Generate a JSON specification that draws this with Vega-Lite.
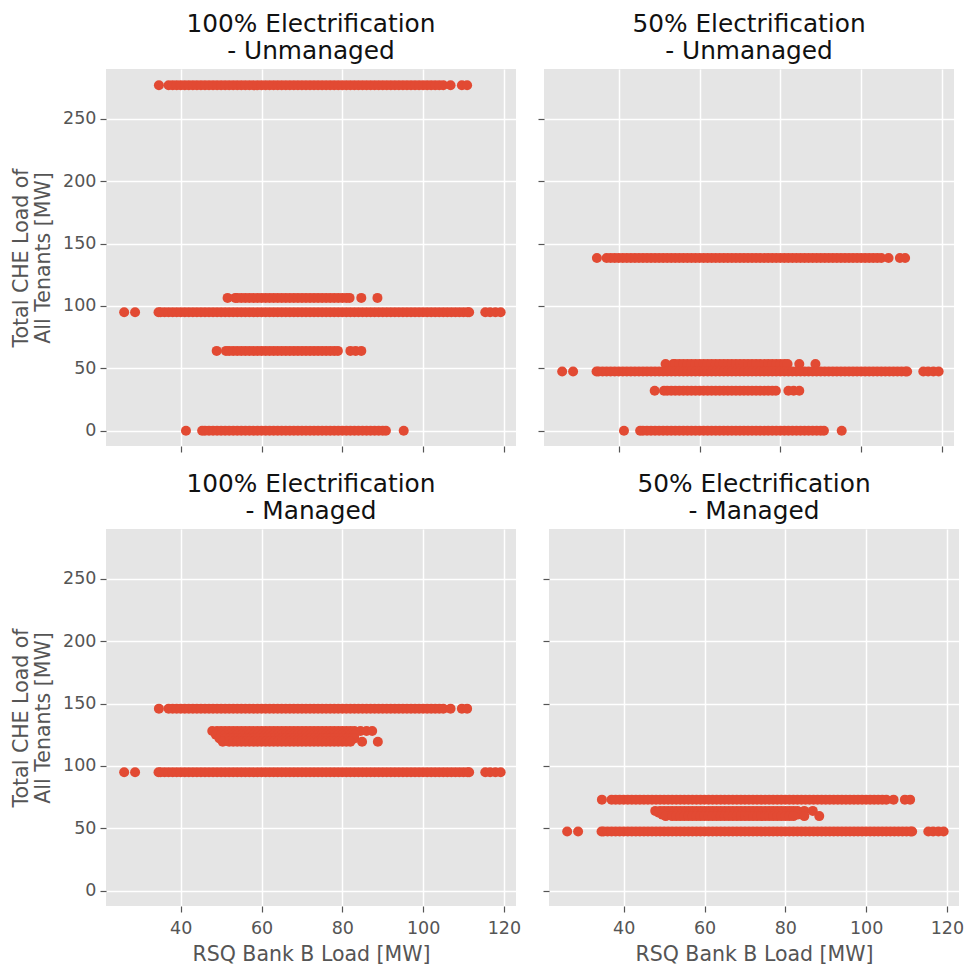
{
  "$schema": "https://vega.github.io/schema/vega-lite/v6.json",
  "padding": {"left": 11, "top": 12, "right": 0, "bottom": 0},
  "background": "white",
  "config": {
    "font": "DejaVu Sans",
    "view": {"fill": "#E5E5E5", "stroke": null},
    "axis": {
      "gridColor": "#FFFFFF",
      "gridWidth": 1.5,
      "domain": false,
      "tickColor": "#555555",
      "tickSize": 6,
      "tickWidth": 1.2,
      "labelColor": "#555555",
      "labelFontSize": 17.5,
      "labelFont": "DejaVu Sans",
      "labelPadding": 4,
      "titleFont": "DejaVu Sans",
      "titleFontSize": 20.5,
      "titleFontWeight": "normal",
      "titleColor": "#555555"
    },
    "title": {
      "font": "DejaVu Sans",
      "fontSize": 24.8,
      "fontWeight": "normal",
      "color": "#111111",
      "lineHeight": 27,
      "offset": 5,
      "anchor": "middle"
    }
  },
  "data": {
    "format": {"type": "csv", "parse": {"x": "number", "y": "number"}},
    "values": "p,x,y\na,34.6,277\na,37,277\na,38,277\na,39,277\na,40,277\na,41,277\na,42,277\na,43,277\na,44,277\na,45,277\na,46,277\na,47,277\na,48,277\na,49,277\na,50,277\na,51,277\na,52,277\na,53,277\na,54,277\na,55,277\na,56,277\na,57,277\na,58,277\na,59,277\na,60,277\na,61,277\na,62,277\na,63,277\na,64,277\na,65,277\na,66,277\na,67,277\na,68,277\na,69,277\na,70,277\na,71,277\na,72,277\na,73,277\na,74,277\na,75,277\na,76,277\na,77,277\na,78,277\na,79,277\na,80,277\na,81,277\na,82,277\na,83,277\na,84,277\na,85,277\na,86,277\na,87,277\na,88,277\na,89,277\na,90,277\na,91,277\na,92,277\na,93,277\na,94,277\na,95,277\na,96,277\na,97,277\na,98,277\na,99,277\na,100,277\na,101,277\na,102,277\na,103,277\na,104,277\na,105,277\na,106.8,277\na,109.6,277\na,110.9,277\na,51.6,106.5\na,53.5,106.5\na,54,106.5\na,55,106.5\na,56,106.5\na,57,106.5\na,58,106.5\na,59,106.5\na,60,106.5\na,61,106.5\na,62,106.5\na,63,106.5\na,64,106.5\na,65,106.5\na,66,106.5\na,67,106.5\na,68,106.5\na,69,106.5\na,70,106.5\na,71,106.5\na,72,106.5\na,73,106.5\na,74,106.5\na,75,106.5\na,76,106.5\na,77,106.5\na,78,106.5\na,79,106.5\na,80,106.5\na,81,106.5\na,81.8,106.5\na,84.7,106.5\na,88.7,106.5\na,26,95\na,28.7,95\na,34.5,95\na,35,95\na,36,95\na,37,95\na,38,95\na,39,95\na,40,95\na,41,95\na,42,95\na,43,95\na,44,95\na,45,95\na,46,95\na,47,95\na,48,95\na,49,95\na,50,95\na,51,95\na,52,95\na,53,95\na,54,95\na,55,95\na,56,95\na,57,95\na,58,95\na,59,95\na,60,95\na,61,95\na,62,95\na,63,95\na,64,95\na,65,95\na,66,95\na,67,95\na,68,95\na,69,95\na,70,95\na,71,95\na,72,95\na,73,95\na,74,95\na,75,95\na,76,95\na,77,95\na,78,95\na,79,95\na,80,95\na,81,95\na,82,95\na,83,95\na,84,95\na,85,95\na,86,95\na,87,95\na,88,95\na,89,95\na,90,95\na,91,95\na,92,95\na,93,95\na,94,95\na,95,95\na,96,95\na,97,95\na,98,95\na,99,95\na,100,95\na,101,95\na,102,95\na,103,95\na,104,95\na,105,95\na,106,95\na,107,95\na,108,95\na,109,95\na,110,95\na,111,95\na,111.4,95\na,115.4,95\na,116.6,95\na,117.9,95\na,119.2,95\na,48.9,64\na,51.2,64\na,52,64\na,53,64\na,54,64\na,55,64\na,56,64\na,57,64\na,58,64\na,59,64\na,60,64\na,61,64\na,62,64\na,63,64\na,64,64\na,65,64\na,66,64\na,67,64\na,68,64\na,69,64\na,70,64\na,71,64\na,72,64\na,73,64\na,74,64\na,75,64\na,76,64\na,77,64\na,78,64\na,78.9,64\na,82,64\na,83.3,64\na,84.7,64\na,41.3,0\na,45.3,0\na,46,0\na,47,0\na,48,0\na,49,0\na,50,0\na,51,0\na,52,0\na,53,0\na,54,0\na,55,0\na,56,0\na,57,0\na,58,0\na,59,0\na,60,0\na,61,0\na,62,0\na,63,0\na,64,0\na,65,0\na,66,0\na,67,0\na,68,0\na,69,0\na,70,0\na,71,0\na,72,0\na,73,0\na,74,0\na,75,0\na,76,0\na,77,0\na,78,0\na,79,0\na,80,0\na,81,0\na,82,0\na,83,0\na,84,0\na,85,0\na,86,0\na,87,0\na,88,0\na,89,0\na,90,0\na,90.8,0\na,95.2,0\nb,34.6,138.5\nb,37,138.5\nb,38,138.5\nb,39,138.5\nb,40,138.5\nb,41,138.5\nb,42,138.5\nb,43,138.5\nb,44,138.5\nb,45,138.5\nb,46,138.5\nb,47,138.5\nb,48,138.5\nb,49,138.5\nb,50,138.5\nb,51,138.5\nb,52,138.5\nb,53,138.5\nb,54,138.5\nb,55,138.5\nb,56,138.5\nb,57,138.5\nb,58,138.5\nb,59,138.5\nb,60,138.5\nb,61,138.5\nb,62,138.5\nb,63,138.5\nb,64,138.5\nb,65,138.5\nb,66,138.5\nb,67,138.5\nb,68,138.5\nb,69,138.5\nb,70,138.5\nb,71,138.5\nb,72,138.5\nb,73,138.5\nb,74,138.5\nb,75,138.5\nb,76,138.5\nb,77,138.5\nb,78,138.5\nb,79,138.5\nb,80,138.5\nb,81,138.5\nb,82,138.5\nb,83,138.5\nb,84,138.5\nb,85,138.5\nb,86,138.5\nb,87,138.5\nb,88,138.5\nb,89,138.5\nb,90,138.5\nb,91,138.5\nb,92,138.5\nb,93,138.5\nb,94,138.5\nb,95,138.5\nb,96,138.5\nb,97,138.5\nb,98,138.5\nb,99,138.5\nb,100,138.5\nb,101,138.5\nb,102,138.5\nb,103,138.5\nb,104,138.5\nb,105,138.5\nb,106.8,138.5\nb,109.6,138.5\nb,110.9,138.5\nb,51.6,53.5\nb,53.5,53.5\nb,54,53.5\nb,55,53.5\nb,56,53.5\nb,57,53.5\nb,58,53.5\nb,59,53.5\nb,60,53.5\nb,61,53.5\nb,62,53.5\nb,63,53.5\nb,64,53.5\nb,65,53.5\nb,66,53.5\nb,67,53.5\nb,68,53.5\nb,69,53.5\nb,70,53.5\nb,71,53.5\nb,72,53.5\nb,73,53.5\nb,74,53.5\nb,75,53.5\nb,76,53.5\nb,77,53.5\nb,78,53.5\nb,79,53.5\nb,80,53.5\nb,81,53.5\nb,81.8,53.5\nb,84.7,53.5\nb,88.7,53.5\nb,26,47.5\nb,28.7,47.5\nb,34.5,47.5\nb,35,47.5\nb,36,47.5\nb,37,47.5\nb,38,47.5\nb,39,47.5\nb,40,47.5\nb,41,47.5\nb,42,47.5\nb,43,47.5\nb,44,47.5\nb,45,47.5\nb,46,47.5\nb,47,47.5\nb,48,47.5\nb,49,47.5\nb,50,47.5\nb,51,47.5\nb,52,47.5\nb,53,47.5\nb,54,47.5\nb,55,47.5\nb,56,47.5\nb,57,47.5\nb,58,47.5\nb,59,47.5\nb,60,47.5\nb,61,47.5\nb,62,47.5\nb,63,47.5\nb,64,47.5\nb,65,47.5\nb,66,47.5\nb,67,47.5\nb,68,47.5\nb,69,47.5\nb,70,47.5\nb,71,47.5\nb,72,47.5\nb,73,47.5\nb,74,47.5\nb,75,47.5\nb,76,47.5\nb,77,47.5\nb,78,47.5\nb,79,47.5\nb,80,47.5\nb,81,47.5\nb,82,47.5\nb,83,47.5\nb,84,47.5\nb,85,47.5\nb,86,47.5\nb,87,47.5\nb,88,47.5\nb,89,47.5\nb,90,47.5\nb,91,47.5\nb,92,47.5\nb,93,47.5\nb,94,47.5\nb,95,47.5\nb,96,47.5\nb,97,47.5\nb,98,47.5\nb,99,47.5\nb,100,47.5\nb,101,47.5\nb,102,47.5\nb,103,47.5\nb,104,47.5\nb,105,47.5\nb,106,47.5\nb,107,47.5\nb,108,47.5\nb,109,47.5\nb,110,47.5\nb,111,47.5\nb,111.4,47.5\nb,115.4,47.5\nb,116.6,47.5\nb,117.9,47.5\nb,119.2,47.5\nb,48.9,32\nb,51.2,32\nb,52,32\nb,53,32\nb,54,32\nb,55,32\nb,56,32\nb,57,32\nb,58,32\nb,59,32\nb,60,32\nb,61,32\nb,62,32\nb,63,32\nb,64,32\nb,65,32\nb,66,32\nb,67,32\nb,68,32\nb,69,32\nb,70,32\nb,71,32\nb,72,32\nb,73,32\nb,74,32\nb,75,32\nb,76,32\nb,77,32\nb,78,32\nb,78.9,32\nb,82,32\nb,83.3,32\nb,84.7,32\nb,41.3,0\nb,45.3,0\nb,46,0\nb,47,0\nb,48,0\nb,49,0\nb,50,0\nb,51,0\nb,52,0\nb,53,0\nb,54,0\nb,55,0\nb,56,0\nb,57,0\nb,58,0\nb,59,0\nb,60,0\nb,61,0\nb,62,0\nb,63,0\nb,64,0\nb,65,0\nb,66,0\nb,67,0\nb,68,0\nb,69,0\nb,70,0\nb,71,0\nb,72,0\nb,73,0\nb,74,0\nb,75,0\nb,76,0\nb,77,0\nb,78,0\nb,79,0\nb,80,0\nb,81,0\nb,82,0\nb,83,0\nb,84,0\nb,85,0\nb,86,0\nb,87,0\nb,88,0\nb,89,0\nb,90,0\nb,90.8,0\nb,95.2,0\nc,34.6,146\nc,37,146\nc,38,146\nc,39,146\nc,40,146\nc,41,146\nc,42,146\nc,43,146\nc,44,146\nc,45,146\nc,46,146\nc,47,146\nc,48,146\nc,49,146\nc,50,146\nc,51,146\nc,52,146\nc,53,146\nc,54,146\nc,55,146\nc,56,146\nc,57,146\nc,58,146\nc,59,146\nc,60,146\nc,61,146\nc,62,146\nc,63,146\nc,64,146\nc,65,146\nc,66,146\nc,67,146\nc,68,146\nc,69,146\nc,70,146\nc,71,146\nc,72,146\nc,73,146\nc,74,146\nc,75,146\nc,76,146\nc,77,146\nc,78,146\nc,79,146\nc,80,146\nc,81,146\nc,82,146\nc,83,146\nc,84,146\nc,85,146\nc,86,146\nc,87,146\nc,88,146\nc,89,146\nc,90,146\nc,91,146\nc,92,146\nc,93,146\nc,94,146\nc,95,146\nc,96,146\nc,97,146\nc,98,146\nc,99,146\nc,100,146\nc,101,146\nc,102,146\nc,103,146\nc,104,146\nc,105,146\nc,106.8,146\nc,109.6,146\nc,110.9,146\nc,47.8,128\nc,49,128\nc,50,128\nc,51,128\nc,52,128\nc,53,128\nc,54,128\nc,55,128\nc,56,128\nc,57,128\nc,58,128\nc,59,128\nc,60,128\nc,61,128\nc,62,128\nc,63,128\nc,64,128\nc,65,128\nc,66,128\nc,67,128\nc,68,128\nc,69,128\nc,70,128\nc,71,128\nc,72,128\nc,73,128\nc,74,128\nc,75,128\nc,76,128\nc,77,128\nc,78,128\nc,79,128\nc,80,128\nc,81,128\nc,82,128\nc,83,128\nc,84.5,128\nc,86,128\nc,87.4,128\nc,48.7,125\nc,50,125\nc,51,125\nc,52,125\nc,53,125\nc,54,125\nc,55,125\nc,56,125\nc,57,125\nc,58,125\nc,59,125\nc,60,125\nc,61,125\nc,62,125\nc,63,125\nc,64,125\nc,65,125\nc,66,125\nc,67,125\nc,68,125\nc,69,125\nc,70,125\nc,71,125\nc,72,125\nc,73,125\nc,74,125\nc,75,125\nc,76,125\nc,77,125\nc,78,125\nc,79,125\nc,80,125\nc,81,125\nc,82,125\nc,83,125\nc,49.6,122\nc,51,122\nc,52,122\nc,53,122\nc,54,122\nc,55,122\nc,56,122\nc,57,122\nc,58,122\nc,59,122\nc,60,122\nc,61,122\nc,62,122\nc,63,122\nc,64,122\nc,65,122\nc,66,122\nc,67,122\nc,68,122\nc,69,122\nc,70,122\nc,71,122\nc,72,122\nc,73,122\nc,74,122\nc,75,122\nc,76,122\nc,77,122\nc,78,122\nc,79,122\nc,80,122\nc,81,122\nc,82,122\nc,83,122\nc,50.4,119.5\nc,52,119.5\nc,53,119.5\nc,54,119.5\nc,55,119.5\nc,56,119.5\nc,57,119.5\nc,58,119.5\nc,59,119.5\nc,60,119.5\nc,61,119.5\nc,62,119.5\nc,63,119.5\nc,64,119.5\nc,65,119.5\nc,66,119.5\nc,67,119.5\nc,68,119.5\nc,69,119.5\nc,70,119.5\nc,71,119.5\nc,72,119.5\nc,73,119.5\nc,74,119.5\nc,75,119.5\nc,76,119.5\nc,77,119.5\nc,78,119.5\nc,79,119.5\nc,80,119.5\nc,81,119.5\nc,82,119.5\nc,84.9,119.5\nc,88.8,119.5\nc,26,95\nc,28.7,95\nc,34.5,95\nc,35,95\nc,36,95\nc,37,95\nc,38,95\nc,39,95\nc,40,95\nc,41,95\nc,42,95\nc,43,95\nc,44,95\nc,45,95\nc,46,95\nc,47,95\nc,48,95\nc,49,95\nc,50,95\nc,51,95\nc,52,95\nc,53,95\nc,54,95\nc,55,95\nc,56,95\nc,57,95\nc,58,95\nc,59,95\nc,60,95\nc,61,95\nc,62,95\nc,63,95\nc,64,95\nc,65,95\nc,66,95\nc,67,95\nc,68,95\nc,69,95\nc,70,95\nc,71,95\nc,72,95\nc,73,95\nc,74,95\nc,75,95\nc,76,95\nc,77,95\nc,78,95\nc,79,95\nc,80,95\nc,81,95\nc,82,95\nc,83,95\nc,84,95\nc,85,95\nc,86,95\nc,87,95\nc,88,95\nc,89,95\nc,90,95\nc,91,95\nc,92,95\nc,93,95\nc,94,95\nc,95,95\nc,96,95\nc,97,95\nc,98,95\nc,99,95\nc,100,95\nc,101,95\nc,102,95\nc,103,95\nc,104,95\nc,105,95\nc,106,95\nc,107,95\nc,108,95\nc,109,95\nc,110,95\nc,111,95\nc,111.4,95\nc,115.4,95\nc,116.6,95\nc,117.9,95\nc,119.2,95\nd,34.6,73\nd,37,73\nd,38,73\nd,39,73\nd,40,73\nd,41,73\nd,42,73\nd,43,73\nd,44,73\nd,45,73\nd,46,73\nd,47,73\nd,48,73\nd,49,73\nd,50,73\nd,51,73\nd,52,73\nd,53,73\nd,54,73\nd,55,73\nd,56,73\nd,57,73\nd,58,73\nd,59,73\nd,60,73\nd,61,73\nd,62,73\nd,63,73\nd,64,73\nd,65,73\nd,66,73\nd,67,73\nd,68,73\nd,69,73\nd,70,73\nd,71,73\nd,72,73\nd,73,73\nd,74,73\nd,75,73\nd,76,73\nd,77,73\nd,78,73\nd,79,73\nd,80,73\nd,81,73\nd,82,73\nd,83,73\nd,84,73\nd,85,73\nd,86,73\nd,87,73\nd,88,73\nd,89,73\nd,90,73\nd,91,73\nd,92,73\nd,93,73\nd,94,73\nd,95,73\nd,96,73\nd,97,73\nd,98,73\nd,99,73\nd,100,73\nd,101,73\nd,102,73\nd,103,73\nd,104,73\nd,105,73\nd,106.8,73\nd,109.6,73\nd,110.9,73\nd,47.8,64\nd,49,64\nd,50,64\nd,51,64\nd,52,64\nd,53,64\nd,54,64\nd,55,64\nd,56,64\nd,57,64\nd,58,64\nd,59,64\nd,60,64\nd,61,64\nd,62,64\nd,63,64\nd,64,64\nd,65,64\nd,66,64\nd,67,64\nd,68,64\nd,69,64\nd,70,64\nd,71,64\nd,72,64\nd,73,64\nd,74,64\nd,75,64\nd,76,64\nd,77,64\nd,78,64\nd,79,64\nd,80,64\nd,81,64\nd,82,64\nd,83,64\nd,84.7,64\nd,86.8,64\nd,48.7,62.5\nd,50,62.5\nd,51,62.5\nd,52,62.5\nd,53,62.5\nd,54,62.5\nd,55,62.5\nd,56,62.5\nd,57,62.5\nd,58,62.5\nd,59,62.5\nd,60,62.5\nd,61,62.5\nd,62,62.5\nd,63,62.5\nd,64,62.5\nd,65,62.5\nd,66,62.5\nd,67,62.5\nd,68,62.5\nd,69,62.5\nd,70,62.5\nd,71,62.5\nd,72,62.5\nd,73,62.5\nd,74,62.5\nd,75,62.5\nd,76,62.5\nd,77,62.5\nd,78,62.5\nd,79,62.5\nd,80,62.5\nd,81,62.5\nd,82,62.5\nd,83,62.5\nd,49.6,61\nd,51,61\nd,52,61\nd,53,61\nd,54,61\nd,55,61\nd,56,61\nd,57,61\nd,58,61\nd,59,61\nd,60,61\nd,61,61\nd,62,61\nd,63,61\nd,64,61\nd,65,61\nd,66,61\nd,67,61\nd,68,61\nd,69,61\nd,70,61\nd,71,61\nd,72,61\nd,73,61\nd,74,61\nd,75,61\nd,76,61\nd,77,61\nd,78,61\nd,79,61\nd,80,61\nd,81,61\nd,82,61\nd,83,61\nd,50.4,59.8\nd,52,59.8\nd,53,59.8\nd,54,59.8\nd,55,59.8\nd,56,59.8\nd,57,59.8\nd,58,59.8\nd,59,59.8\nd,60,59.8\nd,61,59.8\nd,62,59.8\nd,63,59.8\nd,64,59.8\nd,65,59.8\nd,66,59.8\nd,67,59.8\nd,68,59.8\nd,69,59.8\nd,70,59.8\nd,71,59.8\nd,72,59.8\nd,73,59.8\nd,74,59.8\nd,75,59.8\nd,76,59.8\nd,77,59.8\nd,78,59.8\nd,79,59.8\nd,80,59.8\nd,81,59.8\nd,82,59.8\nd,84.7,59.8\nd,88.4,59.8\nd,26,47.5\nd,28.7,47.5\nd,34.5,47.5\nd,35,47.5\nd,36,47.5\nd,37,47.5\nd,38,47.5\nd,39,47.5\nd,40,47.5\nd,41,47.5\nd,42,47.5\nd,43,47.5\nd,44,47.5\nd,45,47.5\nd,46,47.5\nd,47,47.5\nd,48,47.5\nd,49,47.5\nd,50,47.5\nd,51,47.5\nd,52,47.5\nd,53,47.5\nd,54,47.5\nd,55,47.5\nd,56,47.5\nd,57,47.5\nd,58,47.5\nd,59,47.5\nd,60,47.5\nd,61,47.5\nd,62,47.5\nd,63,47.5\nd,64,47.5\nd,65,47.5\nd,66,47.5\nd,67,47.5\nd,68,47.5\nd,69,47.5\nd,70,47.5\nd,71,47.5\nd,72,47.5\nd,73,47.5\nd,74,47.5\nd,75,47.5\nd,76,47.5\nd,77,47.5\nd,78,47.5\nd,79,47.5\nd,80,47.5\nd,81,47.5\nd,82,47.5\nd,83,47.5\nd,84,47.5\nd,85,47.5\nd,86,47.5\nd,87,47.5\nd,88,47.5\nd,89,47.5\nd,90,47.5\nd,91,47.5\nd,92,47.5\nd,93,47.5\nd,94,47.5\nd,95,47.5\nd,96,47.5\nd,97,47.5\nd,98,47.5\nd,99,47.5\nd,100,47.5\nd,101,47.5\nd,102,47.5\nd,103,47.5\nd,104,47.5\nd,105,47.5\nd,106,47.5\nd,107,47.5\nd,108,47.5\nd,109,47.5\nd,110,47.5\nd,111,47.5\nd,111.4,47.5\nd,115.4,47.5\nd,116.6,47.5\nd,117.9,47.5\nd,119.2,47.5\n"
  },
  "spacing": 19,
  "vconcat": [
    {
      "spacing": 21,
      "hconcat": [
        {
          "title": {"text": ["100% Electrification", "- Unmanaged"]},
          "width": 410,
          "height": 377,
          "transform": [{"filter": "datum.p === 'a'"}],
          "mark": {"type": "circle", "color": "#E24A33", "opacity": 1, "size": 100},
          "encoding": {
            "x": {"field": "x", "type": "quantitative", "scale": {"domain": [21.5, 123], "nice": false, "zero": false}, "axis": {"values": [40, 60, 80, 100, 120], "labels": false, "title": null}},
            "y": {"field": "y", "type": "quantitative", "scale": {"domain": [-12.3, 290.1], "nice": false, "zero": false}, "axis": {"values": [0, 50, 100, 150, 200, 250], "title": ["Total CHE Load of", "All Tenants [MW]"], "titleLineHeight": 22, "titlePadding": 9}}
          }
        },
        {
          "title": {"text": ["50% Electrification", "- Unmanaged"]},
          "width": 410,
          "height": 377,
          "transform": [{"filter": "datum.p === 'b'"}],
          "mark": {"type": "circle", "color": "#E24A33", "opacity": 1, "size": 100},
          "encoding": {
            "x": {"field": "x", "type": "quantitative", "scale": {"domain": [21.5, 123], "nice": false, "zero": false}, "axis": {"values": [40, 60, 80, 100, 120], "labels": false, "title": null}},
            "y": {"field": "y", "type": "quantitative", "scale": {"domain": [-12.3, 290.1], "nice": false, "zero": false}, "axis": {"values": [0, 50, 100, 150, 200, 250], "labels": false, "title": null}}
          }
        }
      ]
    },
    {
      "spacing": 21,
      "hconcat": [
        {
          "title": {"text": ["100% Electrification", "- Managed"]},
          "width": 410,
          "height": 377,
          "transform": [{"filter": "datum.p === 'c'"}],
          "mark": {"type": "circle", "color": "#E24A33", "opacity": 1, "size": 100},
          "encoding": {
            "x": {"field": "x", "type": "quantitative", "scale": {"domain": [21.5, 123], "nice": false, "zero": false}, "axis": {"values": [40, 60, 80, 100, 120], "labelPadding": 7, "title": "RSQ Bank B Load [MW]", "titlePadding": 8}},
            "y": {"field": "y", "type": "quantitative", "scale": {"domain": [-12.3, 290.1], "nice": false, "zero": false}, "axis": {"values": [0, 50, 100, 150, 200, 250], "title": ["Total CHE Load of", "All Tenants [MW]"], "titleLineHeight": 22, "titlePadding": 9}}
          }
        },
        {
          "title": {"text": ["50% Electrification", "- Managed"]},
          "width": 410,
          "height": 377,
          "transform": [{"filter": "datum.p === 'd'"}],
          "mark": {"type": "circle", "color": "#E24A33", "opacity": 1, "size": 100},
          "encoding": {
            "x": {"field": "x", "type": "quantitative", "scale": {"domain": [21.5, 123], "nice": false, "zero": false}, "axis": {"values": [40, 60, 80, 100, 120], "labelPadding": 7, "title": "RSQ Bank B Load [MW]", "titlePadding": 8}},
            "y": {"field": "y", "type": "quantitative", "scale": {"domain": [-12.3, 290.1], "nice": false, "zero": false}, "axis": {"values": [0, 50, 100, 150, 200, 250], "labels": false, "title": null}}
          }
        }
      ]
    }
  ]
}
